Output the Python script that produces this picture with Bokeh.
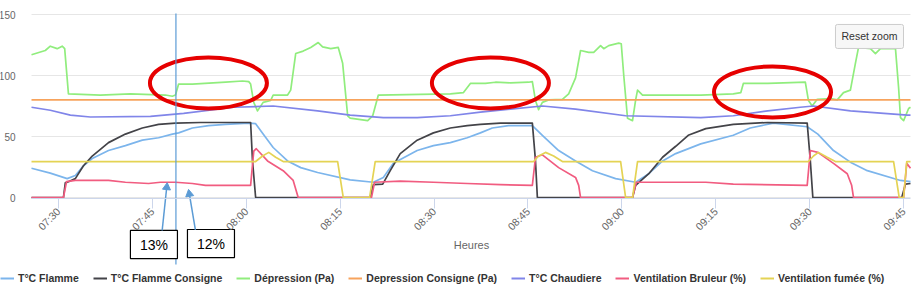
from bokeh.plotting import figure
from bokeh.layouts import column
from bokeh.models import Legend, LegendItem, FixedTicker, Label, Range1d
from bokeh.core.properties import value
from bokeh.embed import file_html
from bokeh.resources import INLINE

# ---------------- data (time = minutes since 07:00) ----------------
tick_labels = ["07:30", "07:45", "08:00", "08:15", "08:30",
               "08:45", "09:00", "09:15", "09:30", "09:45"]
x_title = "Heures"

t_flamme = [25.7, 28.7, 31.4, 32.7, 34.0, 35.4, 38.0, 40.7, 43.4, 46.0, 48.2, 49.2, 51.4, 54.0,
            56.7, 60.4, 61.5, 62.7, 64.3, 66.6, 68.7, 71.4, 76.6, 80.3, 81.9, 83.5, 87.3, 89.9,
            92.6, 95.3, 97.4, 99.3, 101.9, 105.7, 107.3, 109.9, 112.6, 115.3, 119.0, 122.2,
            124.3, 126.5, 128.6, 132.6, 137.8, 140.5, 144.2, 149.6, 151.3, 153.8, 156.5,
            159.2, 164.5, 166.1]
v_flamme = [24, 20, 15.5, 18, 26, 32, 38.5, 42.5, 47, 49, 52, 53, 57, 59,
            60, 61, 60.5, 52, 41, 30, 24.5, 20.5, 14.5, 12.5, 16.5, 28, 38.5, 42.5,
            45, 49, 53, 57, 59, 59, 51, 38.5, 30, 22, 15.5, 12.5,
            19.5, 30, 36, 44, 51, 57, 61, 58, 52, 38.5, 29,
            22, 14, 13]

t_consigne = [25.7, 30.8, 31.1, 31.6, 32.7, 34.0, 35.4, 38.0, 40.7, 43.4, 46.0, 48.7, 52.7,
              60.7, 61.0, 61.5, 79.8, 80.3, 81.8, 83.0, 84.6, 87.3, 89.9, 92.6, 95.3, 97.4,
              100.6, 105.7, 106.2, 106.5, 121.7, 122.2, 124.3, 126.5, 128.6, 130.6, 133.4,
              137.8, 143.3, 149.6, 150.1, 150.5, 164.7, 165.3, 166.1]
v_consigne = [0, 0, 12, 13, 15.5, 26, 34, 45, 52, 57, 60, 61, 61.5,
              61.5, 30, 0, 0, 10.5, 11, 22, 36, 47, 53, 57, 59, 60,
              61, 61, 30, 0, 0, 10, 19.5, 33, 42, 51, 56.5,
              60, 61.5, 61, 30, 0, 0, 11, 11.5]

t_depression = [25.7, 27.9, 28.7, 29.8, 30.6, 31.0, 31.6, 36.7, 41.5, 47.1, 48.2, 48.7, 49.2,
                51.4, 56.7, 59.4, 60.4, 60.7, 61.2, 61.8, 62.7, 63.9, 64.3, 66.6, 67.1, 67.9,
                69.1, 70.3, 71.5, 72.2, 73.5, 74.7, 75.4, 76.2, 76.6, 79.4, 80.2, 81.1, 87.8,
                92.6, 94.7, 95.8, 98.2, 99.8, 102.2, 105.1, 105.7, 106.2, 106.7, 107.3, 108.3,
                110.5, 111.5, 112.6, 113.4, 114.7, 115.5, 116.6, 117.1, 117.9, 119.5, 119.9,
                120.3, 120.9, 121.7, 122.2, 122.5, 123.3, 132.6, 137.8, 139.0, 139.4, 143.3,
                145.8, 149.3, 149.8, 150.4, 151.2, 153.3, 154.4, 155.4, 156.5, 157.3, 157.8,
                159.7, 160.5, 161.3, 163.7, 164.2, 164.5, 165.0, 165.8, 166.1]
v_depression = [117, 120.5, 124, 122, 124, 122, 85, 84, 85, 84, 83, 84, 93,
                93, 94.5, 95.5, 95, 93, 78, 71, 78, 79.5, 84, 84, 88, 118,
                120, 123, 127, 123.5, 122, 123, 110, 67, 65, 63, 67, 84, 84.5,
                85, 86, 93.5, 93.5, 94.5, 94, 94.5, 95, 79.5, 72, 78, 80,
                80.5, 85, 98, 120.5, 119, 119, 124.5, 122, 124.5, 126.5, 126,
                100, 65, 63, 80, 88, 84, 84, 85, 86, 93.5, 93.5,
                94, 94.5, 79.5, 75, 80.5, 81, 80, 86, 88, 110, 123,
                122, 118, 122, 122, 90, 65.5, 63, 73, 74]

t_dep_consigne = [25.7, 166.1]
v_dep_consigne = [80, 80]

t_chaudiere = [25.7, 28.7, 31.9, 35.1, 44.7, 50.0, 58.0, 64.3, 71.4, 76.6, 81.9, 87.3, 92.6,
               97.4, 107.3, 112.6, 120.6, 132.6, 137.8, 143.3, 148.5, 150.6, 156.5, 165.6, 166.1]
v_chaudiere = [74, 71.5, 67.5, 66, 66.5, 69, 74, 75, 71, 67.5, 65.5, 65.5, 67,
               70, 75, 72.5, 67, 65.5, 67, 71, 74, 75, 71, 67.5, 67.5]

t_bruleur = [25.7, 30.8, 31.3, 32.7, 38.0, 40.7, 44.4, 46.3, 48.7, 51.4, 53.5, 60.7, 61.2,
             61.6, 63.4, 65.9, 67.5, 68.3, 80.0, 80.5, 84.6, 89.9, 95.3, 100.6, 105.7, 106.2,
             107.3, 109.9, 112.6, 113.1, 113.4, 121.7, 122.3, 133.4, 137.8, 149.6, 150.1,
             151.3, 153.8, 156.0, 156.7, 157.0, 165.0, 165.5, 166.1]
v_bruleur = [0, 0, 13, 14, 14, 12.5, 11.5, 12.5, 12.5, 11.5, 10, 10, 38,
             40, 30, 22, 14, 0, 0, 12.5, 13.5, 12.5, 11.5, 10.5, 10, 33,
             35, 24.5, 16.5, 10, 0, 0, 12.5, 12.5, 11, 10, 38.5,
             37, 28, 19.5, 10, 0, 0, 28, 24]

t_fumee = [25.7, 61.5, 62.6, 63.6, 64.7, 65.9, 74.6, 75.5, 79.7, 80.6, 105.9, 106.7, 107.8,
           109.1, 110.5, 119.8, 120.6, 121.7, 122.5, 149.8, 150.6, 151.4, 152.8, 154.1,
           163.4, 164.3, 165.0, 165.5, 166.1]
v_fumee = [29.5, 29.5, 34, 37, 33, 29.5, 29.5, 0, 0, 29.5, 29.5, 34, 37,
           34, 29.5, 29.5, 0, 0, 29.5, 29.5, 34, 37, 33, 29.5,
           29.5, 0, 0, 29.5, 29.5]

series_names = ["T°C Flamme", "T°C Flamme Consigne", "Dépression (Pa)",
                "Depression Consigne (Pa)", "T°C Chaudiere",
                "Ventilation Bruleur (%)", "Ventilation fumée (%)"]
series_colors = ["#7cb5ec", "#434348", "#90ed7d", "#f7a35c", "#8085e9", "#f15c80", "#e4d354"]

y_ticks = [0, 50, 100, 150]
t_min, t_max = 25.7, 166.1
y_min, y_max = -0.8, 150

# ---------------- annotation positions (time, value) ----------------
marker_time = 48.77
ellipse_t = [53.96, 99.0, 144.06]
ellipse_v = [93.9, 93.9, 86.5]
box_labels = ["13%", "12%"]
box_left = [41.50, 50.61]
box_right = [49.01, 58.12]
box_top = [-27.0, -26.2]
box_bottom = [-50.0, -49.2]
box_text_t = [45.26, 54.36]
box_text_v = [-39.3, -37.7]
arrow_t0 = [46.57, 51.88]
arrow_v0 = [-27.0, -26.5]
arrow_t1 = [47.30, 50.91]
arrow_v1 = [8.4, 2.9]
arrow_angle = [-0.106, 0.169]
x_title_t, x_title_v = 95.97, -39.3

def hm(s):
    h, m = s.split(":")
    return (int(h) - 7) * 60 + int(m)

tick_pos = [hm(s) for s in tick_labels]

# main chart: frame covers the whole canvas so the annotations below the axis stay visible
W, H1, H2 = 924, 266, 24
left_px, right_px, top_px, bottom_px = 31, 910, 14, 198
sx = (right_px - left_px) / (t_max - t_min)
sy = (bottom_px - top_px) / (y_max - y_min)
x_range = Range1d(t_min - left_px / sx, t_max + (W - right_px) / sx)
y_range = Range1d(y_min - (H1 - bottom_px) / sy, y_max + top_px / sy)

p = figure(width=W, height=H1, output_backend="svg", toolbar_location=None,
           x_range=x_range, y_range=y_range,
           min_border_left=0, min_border_right=0, min_border_top=0, min_border_bottom=0)
p.outline_line_color = None
p.background_fill_color = "white"
p.border_fill_color = "white"

# axes
p.xaxis.fixed_location = y_min
p.xaxis.bounds = (t_min, t_max)
p.xaxis.ticker = FixedTicker(ticks=tick_pos)
p.xaxis.major_label_overrides = {tp: lab for tp, lab in zip(tick_pos, tick_labels)}
p.xaxis.major_label_orientation = 0.785398
p.xaxis.major_label_text_font = "Liberation Sans"
p.xaxis.major_label_text_font_size = "10.5px"
p.xaxis.major_label_text_color = "#666666"
p.xaxis.major_label_standoff = 1
p.xaxis.axis_line_color = "#ccd6eb"
p.xaxis.major_tick_line_color = "#ccd6eb"
p.xaxis.major_tick_out = 10
p.xaxis.major_tick_in = 0
p.xaxis.minor_tick_line_color = None

p.yaxis.fixed_location = t_min
p.yaxis.bounds = (0, 150)
p.yaxis.ticker = FixedTicker(ticks=y_ticks)
p.yaxis.axis_line_color = None
p.yaxis.major_tick_line_color = None
p.yaxis.minor_tick_line_color = None
p.yaxis.major_label_standoff = 10
p.yaxis.major_label_text_font = "Liberation Sans"
p.yaxis.major_label_text_font_size = "10px"
p.yaxis.major_label_text_color = "#666666"

p.xgrid.grid_line_color = None
p.ygrid.grid_line_color = "#e6e6e6"
try:
    p.ygrid.cross_bounds = (t_min, t_max)
except Exception:
    pass

# x axis title
p.text(x=[x_title_t], y=[x_title_v], text=[x_title], text_align="center",
       text_baseline="middle", text_font=value("Liberation Sans"),
       text_font_size="11px", text_color="#666666")

# series
data = [(t_flamme, v_flamme), (t_consigne, v_consigne), (t_depression, v_depression),
        (t_dep_consigne, v_dep_consigne), (t_chaudiere, v_chaudiere),
        (t_bruleur, v_bruleur), (t_fumee, v_fumee)]
for (tx, vy), col in zip(data, series_colors):
    p.line(tx, vy, line_color=col, line_width=1.7, line_join="round")

# red ellipses
p.ellipse(x=ellipse_t, y=ellipse_v, width=117, height=51, width_units="screen",
          height_units="screen", fill_color=None, line_color="#e60000", line_width=4)

# vertical marker line, boxes and arrows
blue = "#5b9bd5"
p.segment(x0=[marker_time], y0=[150.8], x1=[marker_time], y1=[-54.9],
          line_color=blue, line_width=1.2)
p.quad(left=box_left, right=box_right, top=box_top, bottom=box_bottom,
       fill_color="white", line_color="black", line_width=1.2)
p.text(x=box_text_t, y=box_text_v, text=box_labels, text_align="center",
       text_baseline="middle", text_font=value("Liberation Sans"),
       text_font_size="14px", text_color="black")
p.segment(x0=arrow_t0, y0=arrow_v0, x1=arrow_t1, y1=arrow_v1,
          line_color=blue, line_width=1.5)
p.scatter(x=arrow_t1, y=arrow_v1, marker="triangle", size=8, angle=arrow_angle,
          fill_color=blue, line_color=blue)

# reset zoom button
p.add_layout(Label(x=159.55, y=132, text="Reset zoom", text_align="center",
                   text_baseline="middle", text_font="Liberation Sans",
                   text_font_size="10.5px", text_color="#333333",
                   background_fill_color="#f7f7f7", border_line_color="#cccccc",
                   padding=6, border_radius=2))

# legend row (separate strip under the chart; the series are out of this strip's view)
q = figure(width=W, height=H2, output_backend="svg", toolbar_location=None,
           x_range=Range1d(0, 1), y_range=Range1d(0, 1),
           x_axis_location=None, y_axis_location=None,
           min_border_left=0, min_border_right=0, min_border_top=0, min_border_bottom=0)
q.outline_line_color = None
q.xgrid.grid_line_color = None
q.ygrid.grid_line_color = None
items = []
for (tx, vy), name, col in zip(data, series_names, series_colors):
    r = q.line(tx, vy, line_color=col, line_width=2)
    items.append(LegendItem(label=name, renderers=[r]))
legend = Legend(items=items, orientation="horizontal", location="center_left",
                border_line_color=None, background_fill_alpha=0,
                label_text_font="Liberation Sans", label_text_font_style="bold",
                label_text_font_size="10.5px", label_text_color="#333333",
                glyph_width=14, glyph_height=12, label_standoff=4, spacing=14,
                label_height=16, padding=2, margin=0)
q.add_layout(legend)

layout = column(p, q, spacing=0)
open("out.html", "w").write(file_html(layout, INLINE))
